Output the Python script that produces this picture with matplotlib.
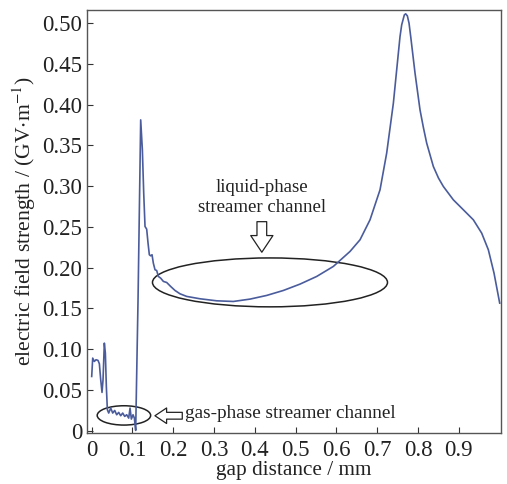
import matplotlib
matplotlib.use("Agg")
import matplotlib.pyplot as plt
from matplotlib.patches import Ellipse
from matplotlib.ticker import FuncFormatter

# Datos: distancia (mm) y campo eléctrico (GV/m)
distancia = [
    0.0000, 0.0025, 0.0065, 0.0106, 0.0155, 0.0188, 0.0221, 0.0253, 0.0278,
    0.0310, 0.0335, 0.0359, 0.0384, 0.0417, 0.0466, 0.0515, 0.0564, 0.0613,
    0.0662, 0.0711, 0.0760, 0.0809, 0.0858, 0.0907, 0.0940, 0.0972, 0.1013,
    0.1046, 0.1078, 0.1136, 0.1201, 0.1242, 0.1275, 0.1307, 0.1348, 0.1381,
    0.1413, 0.1446, 0.1479, 0.1511, 0.1552, 0.1593, 0.1634, 0.1691, 0.1757,
    0.1838, 0.1936, 0.2042, 0.2165, 0.2328, 0.2655, 0.3064, 0.3472, 0.3881,
    0.4289, 0.4698, 0.5106, 0.5515, 0.5923, 0.6332, 0.6577, 0.6822, 0.7067,
    0.7230, 0.7394, 0.7516, 0.7557, 0.7598, 0.7663, 0.7696, 0.7737, 0.7778,
    0.7819, 0.7925, 0.8047, 0.8130, 0.8211, 0.8374, 0.8500, 0.8619, 0.8864,
    0.9109, 0.9354, 0.9559, 0.9722, 0.9861, 1.0000,
]
campo = [
    0.0666, 0.0891, 0.0850, 0.0871, 0.0863, 0.0822, 0.0626, 0.0470, 0.0626,
    0.1075, 0.0953, 0.0544, 0.0258, 0.0217, 0.0278, 0.0217, 0.0249, 0.0196,
    0.0225, 0.0184, 0.0217, 0.0176, 0.0196, 0.0155, 0.0278, 0.0143, 0.0196,
    0.0155, 0.0004, 0.1610, 0.3814, 0.3446, 0.2915, 0.2506, 0.2473, 0.2302,
    0.2159, 0.2146, 0.2159, 0.2056, 0.1975, 0.1966, 0.1893, 0.1872, 0.1832,
    0.1819, 0.1770, 0.1721, 0.1680, 0.1648, 0.1619, 0.1594, 0.1586, 0.1615,
    0.1660, 0.1721, 0.1799, 0.1893, 0.2016, 0.2200, 0.2343, 0.2588, 0.2956,
    0.3406, 0.4019, 0.4632, 0.4836, 0.4980, 0.5102, 0.5115, 0.5090, 0.5000,
    0.4836, 0.4387, 0.3937, 0.3720, 0.3528, 0.3242, 0.3100, 0.2997, 0.2833,
    0.2711, 0.2588, 0.2424, 0.2220, 0.1934, 0.1566,
]

ticks_x = [0, 0.1, 0.2, 0.3, 0.4, 0.5, 0.6, 0.7, 0.8, 0.9]
ticks_y = [0, 0.05, 0.10, 0.15, 0.20, 0.25, 0.30, 0.35, 0.40, 0.45, 0.50]

plt.rcParams["font.family"] = ["Liberation Serif", "DejaVu Serif"]
plt.rcParams["mathtext.fontset"] = "stix"

fig = plt.figure(figsize=(5.07, 4.84), dpi=100)
ax = fig.add_axes([0.1716, 0.105, 0.8164, 0.874])

ax.plot(distancia, campo, color="#4a5c9c", linewidth=1.2)

# Elipses que marcan los canales
ax.add_patch(Ellipse((0.437, 0.182), 0.576, 0.060, fill=False,
                     edgecolor="#222222", linewidth=1.1))
ax.add_patch(Ellipse((0.079, 0.0188), 0.131, 0.0237, fill=False,
                     edgecolor="#222222", linewidth=1.1))

# Flechas huecas
estilo = "simple,head_width=0.8,head_length=0.6,tail_width=0.35"
ax.annotate("", xy=(0.417, 0.219), xytext=(0.417, 0.2565),
            arrowprops=dict(arrowstyle=estilo, fc="white", ec="#222222",
                            lw=0.9, mutation_scale=20, shrinkA=0, shrinkB=0))
ax.annotate("", xy=(0.155, 0.0184), xytext=(0.222, 0.0184),
            arrowprops=dict(arrowstyle=estilo, fc="white", ec="#222222",
                            lw=0.9, mutation_scale=14, shrinkA=0, shrinkB=0))

ax.text(0.418, 0.286, "liquid-phase\nstreamer channel", ha="center",
        va="center", fontsize=13.5, linespacing=1.2, color="#222222")
ax.text(0.229, 0.0215, "gas-phase streamer channel", ha="left",
        va="center", fontsize=13.8, color="#222222")

ax.set_xlim(-0.0115, 1.003)
ax.set_ylim(-0.003, 0.516)
ax.set_xticks(ticks_x)
ax.set_yticks(ticks_y)
ax.xaxis.set_major_formatter(FuncFormatter(lambda v, p: "0" if v == 0 else f"{v:.1f}"))
ax.yaxis.set_major_formatter(FuncFormatter(lambda v, p: "0" if v == 0 else f"{v:.2f}"))
ax.tick_params(direction="in", length=4, width=0.8, labelsize=16.5,
               color="#333333", labelcolor="#222222")
ax.tick_params(axis="x", pad=5)
for lado in ax.spines.values():
    lado.set_color("#555555")
    lado.set_linewidth(1.0)

ax.set_xlabel("gap distance / mm", fontsize=15.3, color="#222222", labelpad=0)
ax.set_ylabel("electric field strength / (GV$\\cdot$m$^{-1}$)", fontsize=15.6,
              color="#222222", labelpad=3)

fig.savefig("out.png", dpi=100)
